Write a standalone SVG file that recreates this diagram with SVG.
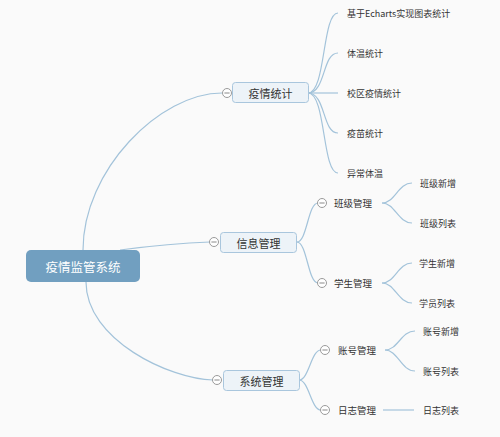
<svg xmlns="http://www.w3.org/2000/svg" width="500" height="437" viewBox="0 0 500 437">
<style>
.bg{fill:#fafafa}
.conn path{fill:none;stroke:#a3c3da;stroke-width:1.2}
.root rect{fill:#719fc0}
.root text{fill:#ffffff;font-size:12.5px}
.main rect{fill:#edf3f8;stroke:#a9c6dd;stroke-width:1}
.main text{font-size:11px}
text{font-family:"Noto Sans CJK SC","Noto Sans",sans-serif;fill:#333;dominant-baseline:central}
.sub text{font-size:9.5px}
.leaf text{font-size:9px}
.tg circle{fill:#fff;stroke:#9a9a9a;stroke-width:1}
.tg line{stroke:#8a8a8a;stroke-width:1}
</style>
<defs>
<g id="tog" class="tg"><circle r="4.5"/><line x1="-2.6" y1="0" x2="2.6" y2="0"/></g>
</defs>
<rect class="bg" width="500" height="437"/>
<g id="connectors" class="conn">
<path d="M83,250 C83,170 160,93 222,93"/>
<path d="M120,250 C150,246 180,243 210,242"/>
<path d="M86,282 C86,340 170,379 213,380"/>
<path d="M308,93 C326,93 322,13 338,13"/>
<path d="M308,93 C326,93 322,53 338,53"/>
<path d="M308,93 L338,93"/>
<path d="M308,93 C326,93 322,133 338,133"/>
<path d="M308,93 C326,93 322,173 338,173"/>
<path d="M297,242 C307,242 308,203 318,203"/>
<path d="M297,242 C307,242 308,283 318,283"/>
<path d="M382,203 C395,203 398,183 412,183"/>
<path d="M382,203 C395,203 398,223 412,223"/>
<path d="M382,283 C395,283 398,263 412,263"/>
<path d="M382,283 C395,283 398,303 412,303"/>
<path d="M299,380 C309,380 311,350 321,350"/>
<path d="M299,380 C309,380 311,410 321,410"/>
<path d="M385,350 C398,350 401,331 415,331"/>
<path d="M385,350 C398,350 401,371 415,371"/>
<path d="M383,410 L414,410"/>
</g>
<g id="root" class="root"><rect x="26" y="250" width="114" height="32" rx="5"/><text x="83" y="266" text-anchor="middle">疫情监管系统</text></g>
<g id="n1" class="main"><rect x="232.5" y="82.5" width="76" height="20" rx="3"/><text x="270.5" y="92.5" text-anchor="middle">疫情统计</text><use href="#tog" x="227" y="93"/></g>
<g id="n2" class="main"><rect x="220.5" y="232.5" width="76" height="20" rx="3"/><text x="258.5" y="242.5" text-anchor="middle">信息管理</text><use href="#tog" x="214" y="242"/></g>
<g id="n3" class="main"><rect x="223.5" y="370.5" width="76" height="20" rx="3"/><text x="261.5" y="380.5" text-anchor="middle">系统管理</text><use href="#tog" x="217" y="380"/></g>
<g id="l1" class="leaf"><text x="347" y="13">基于Echarts实现图表统计</text></g>
<g id="l2" class="leaf"><text x="347" y="53">体温统计</text></g>
<g id="l3" class="leaf"><text x="347" y="93">校区疫情统计</text></g>
<g id="l4" class="leaf"><text x="347" y="133">疫苗统计</text></g>
<g id="l5" class="leaf"><text x="347" y="173">异常体温</text></g>
<g id="s1" class="sub"><use href="#tog" x="322" y="203"/><text x="334" y="203">班级管理</text></g>
<g id="s2" class="sub"><use href="#tog" x="322" y="283"/><text x="334" y="283">学生管理</text></g>
<g id="s3" class="sub"><use href="#tog" x="325" y="350"/><text x="338" y="350">账号管理</text></g>
<g id="s4" class="sub"><use href="#tog" x="325" y="410"/><text x="338" y="410">日志管理</text></g>
<g id="l6" class="leaf"><text x="420" y="183">班级新增</text></g>
<g id="l7" class="leaf"><text x="420" y="223">班级列表</text></g>
<g id="l8" class="leaf"><text x="419" y="263">学生新增</text></g>
<g id="l9" class="leaf"><text x="419" y="303">学员列表</text></g>
<g id="l10" class="leaf"><text x="423" y="331">账号新增</text></g>
<g id="l11" class="leaf"><text x="423" y="371">账号列表</text></g>
<g id="l12" class="leaf"><text x="423" y="410">日志列表</text></g>
</svg>
